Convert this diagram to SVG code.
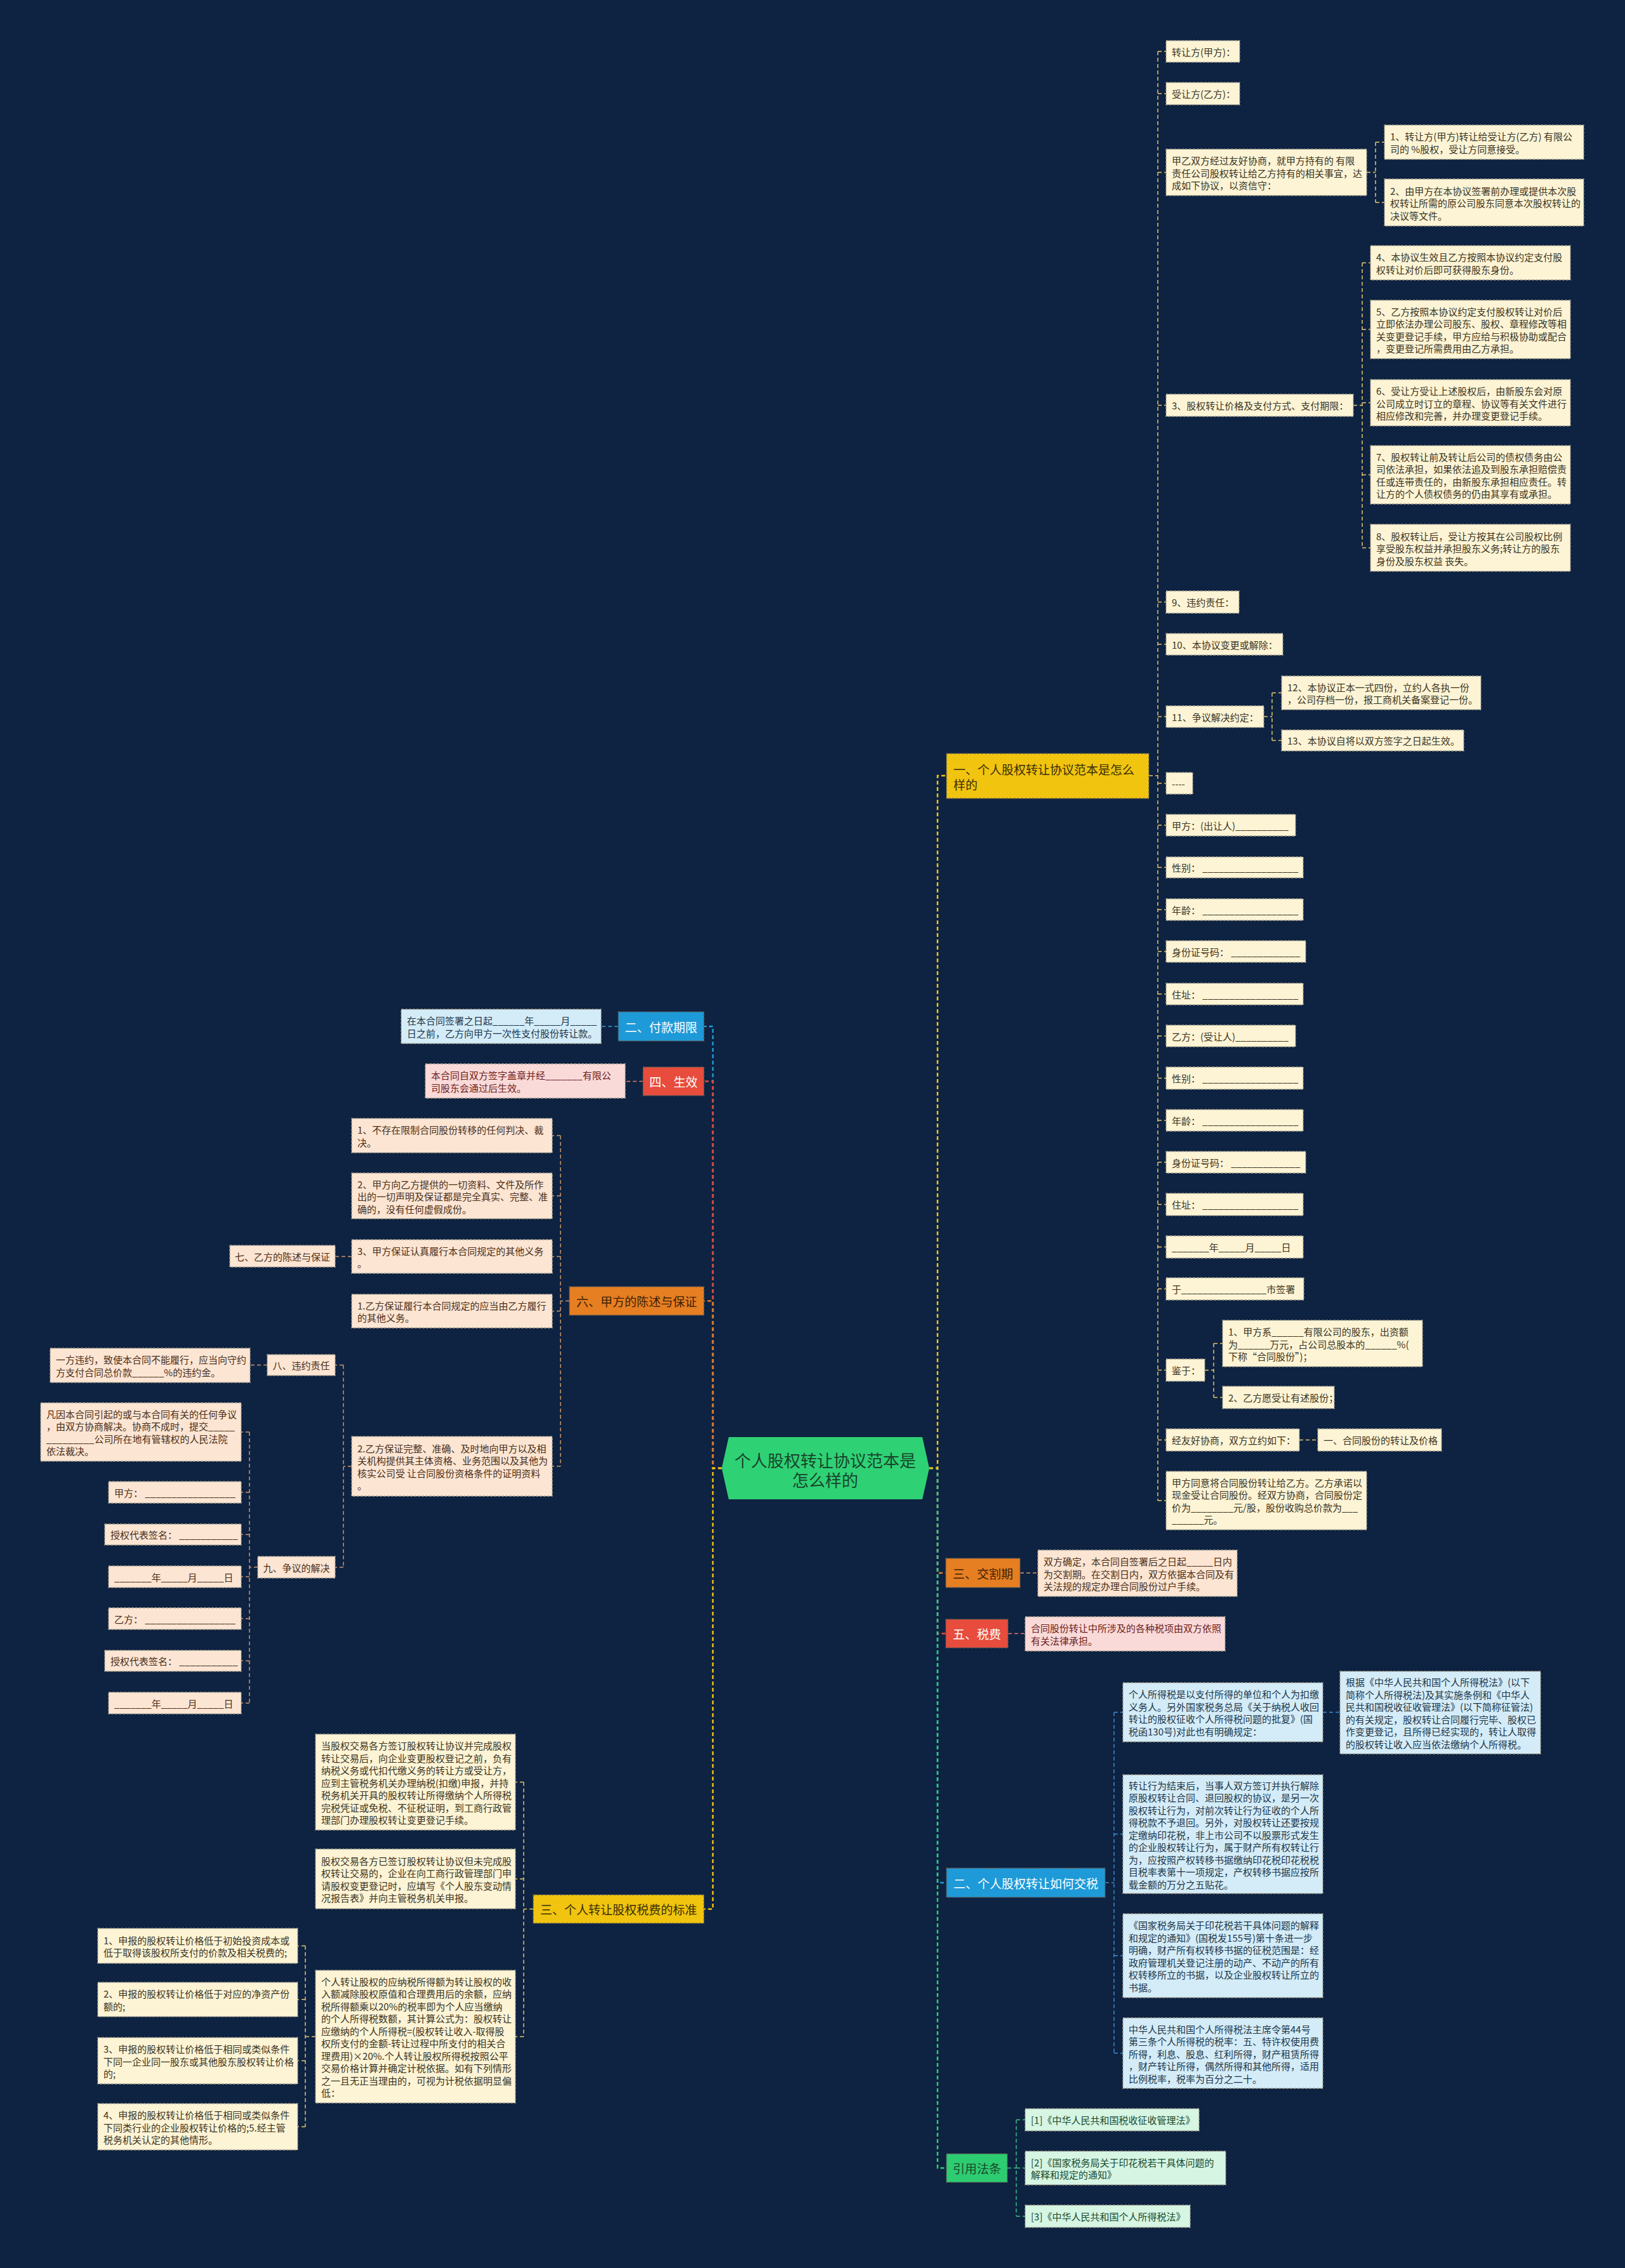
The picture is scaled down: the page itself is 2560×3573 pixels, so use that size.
<svg xmlns="http://www.w3.org/2000/svg" width="2560" height="3573" viewBox="0 0 2560 3573">
<style>
text{font-family:"Noto Sans CJK SC","Microsoft YaHei",sans-serif;dominant-baseline:central}
.s{font-size:15px}
.m{font-size:19px}
.mid{text-anchor:middle}
.b{stroke:#a29e8e;stroke-width:1.3;stroke-dasharray:4 2}
.bm{stroke:#5a5a55;stroke-width:1.3;stroke-dasharray:4 2}
.cr{fill:#fdf4d5}.pe{fill:#fce5d3}.pk{fill:#fadad8}.lb{fill:#d4ecf8}.lg{fill:#d6f5e3}
.Y{fill:#f1c40f}.O{fill:#e67e22}.R{fill:#e74c3c}.B{fill:#1f9ad8}.G{fill:#2ecc71}
.tc{fill:#3a3322}.tp{fill:#4a2e18}.tk{fill:#6b2020}.tb{fill:#1b3548}.tg{fill:#184a2c}.tw{fill:#ffffff}.ty{fill:#3a2e05}.to{fill:#3d2205}
.cn path{fill:none;stroke-dasharray:6 4}
.w2{stroke-width:2.5}
.w1{stroke-width:1.5}
</style>
<rect width="2560" height="3573" fill="#0e2241"/>

<g id="connectors" class="cn">
  <path class="w2" stroke="#e67e22" d="M1464 2313H1477V2478H1490"/>
  <path class="w2" stroke="#e74c3c" d="M1464 2313H1477V2573.5H1490"/>
  <path class="w2" stroke="#1f9ad8" d="M1464 2313H1477V2966H1491"/>
  <path class="w2" stroke="#2ecc71" d="M1464 2313H1477V3415.5H1491"/>
  <path class="w2" stroke="#f1c40f" d="M1464 2313H1477V1222H1491"/>
  <path class="w2" stroke="#1f9ad8" d="M1137 2313H1123V1617H1109"/>
  <path class="w2" stroke="#e74c3c" d="M1137 2313H1123V1703.5H1109"/>
  <path class="w2" stroke="#e67e22" d="M1137 2313H1123V2049.5H1109"/>
  <path class="w2" stroke="#f1c40f" d="M1137 2313H1123V3007.5H1109"/>
  <g stroke="#e3c76a">
    <path class="w1" d="M1810 1222H1824M1824 81V2364"/>
    <path class="w1" d="M1824 81H1837M1824 147.5H1837M1824 271.5H1837M1824 638.5H1837M1824 948.5H1837M1824 1015H1837M1824 1129H1837M1824 1234H1837M1824 1300H1837M1824 1366.5H1837M1824 1433H1837M1824 1499H1837M1824 1566H1837M1824 1632H1837M1824 1698.5H1837M1824 1765H1837M1824 1831H1837M1824 1897.5H1837M1824 1964.5H1837M1824 2030.5H1837M1824 2158.5H1837M1824 2268.5H1837M1824 2364H1837"/>
    <path class="w1" d="M2153 271.5H2167M2167 224V319M2167 224H2181M2167 319H2181"/>
    <path class="w1" d="M2132 638.5H2146M2146 414V863M2146 414H2159M2146 519H2159M2146 634.5H2159M2146 748H2159M2146 863H2159"/>
    <path class="w1" d="M1991 1129H2004M2004 1091.5V1166.5M2004 1091.5H2019M2004 1166.5H2019"/>
    <path class="w1" d="M1898 2158.5H1912M1912 2116.5V2201.5M1912 2116.5H1926M1912 2201.5H1926"/>
    <path class="w1" d="M2047 2268.5H2076"/>
  </g>
  <path class="w1" stroke="#e3925a" d="M1607 2478H1635"/>
  <path class="w1" stroke="#e47a6c" d="M1588 2573.5H1615"/>
  <g stroke="#3c8fd0">
    <path class="w1" d="M1741 2966H1755M1755 2697.5V3234.5M1755 2697.5H1769M1755 2889.5H1769M1755 3081H1769M1755 3234.5H1769"/>
    <path class="w1" d="M2084 2697.5H2111"/>
  </g>
  <path class="w1" stroke="#3ec080" d="M1587 3415.5H1601M1601 3339.5V3491.5M1601 3339.5H1615M1601 3415.5H1615M1601 3491.5H1615"/>
  <path class="w1" stroke="#3c9ad6" d="M974 1617H947"/>
  <path class="w1" stroke="#e47a6c" d="M1013 1703.5H985"/>
  <g stroke="#c9966e">
    <path class="w1" d="M897 2049.5H883M883 1789V2310M883 1789H870M883 1884H870M883 1979.5H870M883 2065.5H870M883 2310H870"/>
    <path class="w1" d="M554 1979.5H528"/>
    <path class="w1" d="M554 2310H541M541 2150.5V2469M541 2150.5H528M541 2469H528"/>
    <path class="w1" d="M421 2150.5H394"/>
    <path class="w1" d="M406 2469H393M393 2256V2683M393 2256H380M393 2351H380M393 2417.5H380M393 2484H380M393 2550H380M393 2616.5H380M393 2683H380"/>
  </g>
  <g stroke="#e3c76a">
    <path class="w1" d="M840 3007.5H825M825 2807.5V3208.5M825 2807.5H812M825 2960H812M825 3208.5H812"/>
    <path class="w1" d="M497 3208.5H481M481 3065.5V3350.5M481 3065.5H469M481 3150H469M481 3246.5H469M481 3350.5H469"/>
  </g>
</g>

<g id="center">
  <polygon points="1137,2313 1148,2264 1453,2264 1464,2313 1453,2362 1148,2362" fill="#2fd175"/>
  <text x="1300" y="2299" class="mid" font-size="26" fill="#17452a">个人股权转让协议范本是</text>
  <text x="1300" y="2330" class="mid" font-size="26" fill="#17452a">怎么样的</text>
</g>

<g id="b1"><rect x="1491" y="1187" width="319" height="71" class="Y bm"/>
  <text class="m ty"><tspan x="1502" y="1210.5">一、个人股权转让协议范本是怎么</tspan><tspan x="1502" y="1234.5">样的</tspan></text></g>
<g id="b-jiaoge"><rect x="1490" y="2455" width="117" height="46" class="O bm"/><text x="1548.5" y="2478" class="m mid to">三、交割期</text></g>
<g id="b-shuifei"><rect x="1490" y="2551" width="98" height="45" class="R bm"/><text x="1539" y="2573.5" class="m mid tw">五、税费</text></g>
<g id="b-jiaoshui"><rect x="1491" y="2943" width="250" height="46" class="B bm"/><text x="1616" y="2966" class="m mid tw">二、个人股权转让如何交税</text></g>
<g id="b-yinyong"><rect x="1491" y="3393" width="96" height="45" class="G bm"/><text x="1539" y="3415.5" class="m mid tg">引用法条</text></g>

<g id="b-fukuan"><rect x="974" y="1594" width="135" height="46" class="B bm"/><text x="1041.5" y="1617" class="m mid tw">二、付款期限</text></g>
<g id="b-shengxiao"><rect x="1013" y="1681" width="96" height="45" class="R bm"/><text x="1061" y="1703.5" class="m mid tw">四、生效</text></g>
<g id="b-liu"><rect x="897" y="2027" width="212" height="45" class="O bm"/><text x="1003" y="2049.5" class="m mid to">六、甲方的陈述与保证</text></g>
<g id="b-biaozhun"><rect x="840" y="2985" width="269" height="45" class="Y bm"/><text x="974.5" y="3007.5" class="m mid ty">三、个人转让股权税费的标准</text></g>

<g id="n1"><rect x="1837" y="64" width="116" height="34" class="cr b"/><text x="1846" y="81" class="s tc">转让方(甲方)：</text></g>
<g id="n2"><rect x="1837" y="130" width="116" height="35" class="cr b"/><text x="1846" y="147.5" class="s tc">受让方(乙方)：</text></g>
<g id="n3"><rect x="1837" y="235" width="316" height="73" class="cr b"/><text class="s tc"><tspan x="1846" y="252">甲乙双方经过友好协商，就甲方持有的 有限</tspan><tspan x="1846" y="271.5">责任公司股权转让给乙方持有的相关事宜，达</tspan><tspan x="1846" y="291">成如下协议，以资信守：</tspan></text></g>
<g id="n3a"><rect x="2181" y="197" width="314" height="54" class="cr b"/><text class="s tc"><tspan x="2190" y="214.25">1、转让方(甲方)转让给受让方(乙方) 有限公</tspan><tspan x="2190" y="233.75">司的 %股权，受让方同意接受。</tspan></text></g>
<g id="n3b"><rect x="2181" y="282" width="314" height="74" class="cr b"/><text class="s tc"><tspan x="2190" y="299.5">2、由甲方在本协议签署前办理或提供本次股</tspan><tspan x="2190" y="319">权转让所需的原公司股东同意本次股权转让的</tspan><tspan x="2190" y="338.5">决议等文件。</tspan></text></g>
<g id="n4"><rect x="1837" y="621" width="295" height="35" class="cr b"/><text x="1846" y="638.5" class="s tc">3、股权转让价格及支付方式、支付期限：</text></g>
<g id="n4a"><rect x="2159" y="387" width="315" height="54" class="cr b"/><text class="s tc"><tspan x="2168" y="404.25">4、本协议生效且乙方按照本协议约定支付股</tspan><tspan x="2168" y="423.75">权转让对价后即可获得股东身份。</tspan></text></g>
<g id="n4b"><rect x="2159" y="473" width="315" height="92" class="cr b"/><text class="s tc"><tspan x="2168" y="489.75">5、乙方按照本协议约定支付股权转让对价后</tspan><tspan x="2168" y="509.25">立即依法办理公司股东、股权、章程修改等相</tspan><tspan x="2168" y="528.75">关变更登记手续，甲方应给与积极协助或配合</tspan><tspan x="2168" y="548.25">，变更登记所需费用由乙方承担。</tspan></text></g>
<g id="n4c"><rect x="2159" y="598" width="315" height="73" class="cr b"/><text class="s tc"><tspan x="2168" y="615">6、受让方受让上述股权后，由新股东会对原</tspan><tspan x="2168" y="634.5">公司成立时订立的章程、协议等有关文件进行</tspan><tspan x="2168" y="654">相应修改和完善，并办理变更登记手续。</tspan></text></g>
<g id="n4d"><rect x="2159" y="702" width="315" height="92" class="cr b"/><text class="s tc"><tspan x="2168" y="718.75">7、股权转让前及转让后公司的债权债务由公</tspan><tspan x="2168" y="738.25">司依法承担，如果依法追及到股东承担赔偿责</tspan><tspan x="2168" y="757.75">任或连带责任的，由新股东承担相应责任。转</tspan><tspan x="2168" y="777.25">让方的个人债权债务的仍由其享有或承担。</tspan></text></g>
<g id="n4e"><rect x="2159" y="826" width="315" height="74" class="cr b"/><text class="s tc"><tspan x="2168" y="843.5">8、股权转让后，受让方按其在公司股权比例</tspan><tspan x="2168" y="863">享受股东权益并承担股东义务;转让方的股东</tspan><tspan x="2168" y="882.5">身份及股东权益 丧失。</tspan></text></g>
<g id="n5"><rect x="1837" y="931" width="115" height="35" class="cr b"/><text x="1846" y="948.5" class="s tc">9、违约责任：</text></g>
<g id="n6"><rect x="1837" y="998" width="184" height="34" class="cr b"/><text x="1846" y="1015" class="s tc">10、本协议变更或解除：</text></g>
<g id="n7"><rect x="1837" y="1112" width="154" height="34" class="cr b"/><text x="1846" y="1129" class="s tc">11、争议解决约定：</text></g>
<g id="n7a"><rect x="2019" y="1065" width="314" height="53" class="cr b"/><text class="s tc"><tspan x="2028" y="1081.75">12、本协议正本一式四份，立约人各执一份</tspan><tspan x="2028" y="1101.25">，公司存档一份，报工商机关备案登记一份。</tspan></text></g>
<g id="n7b"><rect x="2019" y="1150" width="287" height="33" class="cr b"/><text x="2028" y="1166.5" class="s tc">13、本协议自将以双方签字之日起生效。</text></g>
<g id="n8"><rect x="1837" y="1217" width="42" height="34" class="cr b"/><text x="1846" y="1234" class="s tc">----</text></g>
<g id="n9"><rect x="1837" y="1283" width="204" height="34" class="cr b"/><text x="1846" y="1300" class="s tc">甲方：(出让人)__________</text></g>
<g id="n10"><rect x="1837" y="1350" width="216" height="33" class="cr b"/><text x="1846" y="1366.5" class="s tc">性别： __________________</text></g>
<g id="n11"><rect x="1837" y="1416" width="216" height="34" class="cr b"/><text x="1846" y="1433" class="s tc">年龄： __________________</text></g>
<g id="n12"><rect x="1837" y="1482" width="220" height="34" class="cr b"/><text x="1846" y="1499" class="s tc">身份证号码： _____________</text></g>
<g id="n13"><rect x="1837" y="1549" width="216" height="34" class="cr b"/><text x="1846" y="1566" class="s tc">住址： __________________</text></g>
<g id="n14"><rect x="1837" y="1615" width="204" height="34" class="cr b"/><text x="1846" y="1632" class="s tc">乙方：(受让人)__________</text></g>
<g id="n15"><rect x="1837" y="1681" width="216" height="35" class="cr b"/><text x="1846" y="1698.5" class="s tc">性别： __________________</text></g>
<g id="n16"><rect x="1837" y="1748" width="216" height="34" class="cr b"/><text x="1846" y="1765" class="s tc">年龄： __________________</text></g>
<g id="n17"><rect x="1837" y="1814" width="220" height="34" class="cr b"/><text x="1846" y="1831" class="s tc">身份证号码： _____________</text></g>
<g id="n18"><rect x="1837" y="1880" width="216" height="35" class="cr b"/><text x="1846" y="1897.5" class="s tc">住址： __________________</text></g>
<g id="n19"><rect x="1837" y="1947" width="216" height="35" class="cr b"/><text x="1846" y="1964.5" class="s tc">_______年_____月_____日</text></g>
<g id="n20"><rect x="1837" y="2013" width="217" height="35" class="cr b"/><text x="1846" y="2030.5" class="s tc">于________________市签署</text></g>
<g id="n21"><rect x="1837" y="2141" width="61" height="35" class="cr b"/><text x="1846" y="2158.5" class="s tc">鉴于：</text></g>
<g id="n21a"><rect x="1926" y="2080" width="315" height="73" class="cr b"/><text class="s tc"><tspan x="1935" y="2097">1、甲方系______有限公司的股东，出资额</tspan><tspan x="1935" y="2116.5">为______万元，占公司总股本的______%(</tspan><tspan x="1935" y="2136">下称“合同股份”)；</tspan></text></g>
<g id="n21b"><rect x="1926" y="2184" width="176" height="35" class="cr b"/><text x="1935" y="2201.5" class="s tc">2、乙方愿受让有述股份；</text></g>
<g id="n22"><rect x="1837" y="2251" width="210" height="35" class="cr b"/><text x="1846" y="2268.5" class="s tc">经友好协商，双方立约如下：</text></g>
<g id="n22a"><rect x="2076" y="2251" width="195" height="35" class="cr b"/><text x="2085" y="2268.5" class="s tc">一、合同股份的转让及价格</text></g>
<g id="n23"><rect x="1837" y="2318" width="316" height="92" class="cr b"/><text class="s tc"><tspan x="1846" y="2334.75">甲方同意将合同股份转让给乙方。乙方承诺以</tspan><tspan x="1846" y="2354.25">现金受让合同股份。经双方协商，合同股份定</tspan><tspan x="1846" y="2373.75">价为________元/股，股份收购总价款为___</tspan><tspan x="1846" y="2393.25">______元。</tspan></text></g>

<g id="jg1"><rect x="1635" y="2442" width="314" height="73" class="pe b"/><text class="s tp"><tspan x="1644" y="2459">双方确定，本合同自签署后之日起_____日内</tspan><tspan x="1644" y="2478.5">为交割期。在交割日内，双方依据本合同及有</tspan><tspan x="1644" y="2498">关法规的规定办理合同股份过户手续。</tspan></text></g>
<g id="sf1"><rect x="1615" y="2547" width="315" height="54" class="pk b"/><text class="s tk"><tspan x="1624" y="2564.25">合同股份转让中所涉及的各种税项由双方依照</tspan><tspan x="1624" y="2583.75">有关法律承担。</tspan></text></g>
<g id="js1"><rect x="1769" y="2651" width="315" height="93" class="lb b"/><text class="s tb"><tspan x="1778" y="2668.25">个人所得税是以支付所得的单位和个人为扣缴</tspan><tspan x="1778" y="2687.75">义务人。另外国家税务总局《关于纳税人收回</tspan><tspan x="1778" y="2707.25">转让的股权征收个人所得税问题的批复》(国</tspan><tspan x="1778" y="2726.75">税函130号)对此也有明确规定：</tspan></text></g>
<g id="js1a"><rect x="2111" y="2633" width="316" height="130" class="lb b"/><text class="s tb"><tspan x="2120" y="2649.25">根据《中华人民共和国个人所得税法》(以下</tspan><tspan x="2120" y="2668.75">简称个人所得税法)及其实施条例和《中华人</tspan><tspan x="2120" y="2688.25">民共和国税收征收管理法》(以下简称征管法)</tspan><tspan x="2120" y="2707.75">的有关规定，股权转让合同履行完毕、股权已</tspan><tspan x="2120" y="2727.25">作变更登记，且所得已经实现的，转让人取得</tspan><tspan x="2120" y="2746.75">的股权转让收入应当依法缴纳个人所得税。</tspan></text></g>
<g id="js2"><rect x="1769" y="2796" width="315" height="187" class="lb b"/><text class="s tb"><tspan x="1778" y="2811.5">转让行为结束后，当事人双方签订并执行解除</tspan><tspan x="1778" y="2831">原股权转让合同、退回股权的协议，是另一次</tspan><tspan x="1778" y="2850.5">股权转让行为，对前次转让行为征收的个人所</tspan><tspan x="1778" y="2870">得税款不予退回。另外，对股权转让还要按规</tspan><tspan x="1778" y="2889.5">定缴纳印花税，非上市公司不以股票形式发生</tspan><tspan x="1778" y="2909">的企业股权转让行为，属于财产所有权转让行</tspan><tspan x="1778" y="2928.5">为，应按照产权转移书据缴纳印花税印花税税</tspan><tspan x="1778" y="2948">目税率表第十一项规定，产权转移书据应按所</tspan><tspan x="1778" y="2967.5">载金额的万分之五贴花。</tspan></text></g>
<g id="js3"><rect x="1769" y="3015" width="315" height="132" class="lb b"/><text class="s tb"><tspan x="1778" y="3032.25">《国家税务局关于印花税若干具体问题的解释</tspan><tspan x="1778" y="3051.75">和规定的通知》(国税发155号)第十条进一步</tspan><tspan x="1778" y="3071.25">明确，财产所有权转移书据的征税范围是：经</tspan><tspan x="1778" y="3090.75">政府管理机关登记注册的动产、不动产的所有</tspan><tspan x="1778" y="3110.25">权转移所立的书据，以及企业股权转让所立的</tspan><tspan x="1778" y="3129.75">书据。</tspan></text></g>
<g id="js4"><rect x="1769" y="3179" width="315" height="111" class="lb b"/><text class="s tb"><tspan x="1778" y="3195.5">中华人民共和国个人所得税法主席令第44号</tspan><tspan x="1778" y="3215">第三条个人所得税的税率：五、特许权使用费</tspan><tspan x="1778" y="3234.5">所得，利息、股息、红利所得，财产租赁所得</tspan><tspan x="1778" y="3254">，财产转让所得，偶然所得和其他所得，适用</tspan><tspan x="1778" y="3273.5">比例税率，税率为百分之二十。</tspan></text></g>
<g id="yy1"><rect x="1615" y="3322" width="274" height="35" class="lg b"/><text x="1624" y="3339.5" class="s tg">[1]《中华人民共和国税收征收管理法》</text></g>
<g id="yy2"><rect x="1615" y="3389" width="316" height="53" class="lg b"/><text class="s tg"><tspan x="1624" y="3405.75">[2]《国家税务局关于印花税若干具体问题的</tspan><tspan x="1624" y="3425.25">解释和规定的通知》</tspan></text></g>
<g id="yy3"><rect x="1615" y="3474" width="260" height="35" class="lg b"/><text x="1624" y="3491.5" class="s tg">[3]《中华人民共和国个人所得税法》</text></g>

<g id="fk1"><rect x="632" y="1590" width="315" height="54" class="lb b"/><text class="s tb"><tspan x="641" y="1607.25">在本合同签署之日起______年_____月_____</tspan><tspan x="641" y="1626.75">日之前，乙方向甲方一次性支付股份转让款。</tspan></text></g>
<g id="sx1"><rect x="670" y="1676" width="315" height="54" class="pk b"/><text class="s tk"><tspan x="679" y="1693.25">本合同自双方签字盖章并经_______有限公</tspan><tspan x="679" y="1712.75">司股东会通过后生效。</tspan></text></g>
<g id="l6a"><rect x="554" y="1762" width="316" height="54" class="pe b"/><text class="s tp"><tspan x="563" y="1779.25">1、不存在限制合同股份转移的任何判决、裁</tspan><tspan x="563" y="1798.75">决。</tspan></text></g>
<g id="l6b"><rect x="554" y="1848" width="316" height="72" class="pe b"/><text class="s tp"><tspan x="563" y="1864.5">2、甲方向乙方提供的一切资料、文件及所作</tspan><tspan x="563" y="1884">出的一切声明及保证都是完全真实、完整、准</tspan><tspan x="563" y="1903.5">确的，没有任何虚假成份。</tspan></text></g>
<g id="l6c"><rect x="554" y="1953" width="316" height="53" class="pe b"/><text class="s tp"><tspan x="563" y="1969.75">3、甲方保证认真履行本合同规定的其他义务</tspan><tspan x="563" y="1989.25">。</tspan></text></g>
<g id="l6d"><rect x="554" y="2039" width="316" height="53" class="pe b"/><text class="s tp"><tspan x="563" y="2055.75">1.乙方保证履行本合同规定的应当由乙方履行</tspan><tspan x="563" y="2075.25">的其他义务。</tspan></text></g>
<g id="l6e"><rect x="554" y="2263" width="316" height="94" class="pe b"/><text class="s tp"><tspan x="563" y="2280.75">2.乙方保证完整、准确、及时地向甲方以及相</tspan><tspan x="563" y="2300.25">关机构提供其主体资格、业务范围以及其他为</tspan><tspan x="563" y="2319.75">核实公司受 让合同股份资格条件的证明资料</tspan><tspan x="563" y="2339.25">。</tspan></text></g>
<g id="l7"><rect x="362" y="1962" width="166" height="34" class="pe b"/><text x="445" y="1979" class="s mid tp">七、乙方的陈述与保证</text></g>
<g id="l8"><rect x="421" y="2134" width="107" height="33" class="pe b"/><text x="474.5" y="2150.5" class="s mid tp">八、违约责任</text></g>
<g id="l8a"><rect x="79" y="2124" width="315" height="54" class="pe b"/><text class="s tp"><tspan x="88" y="2141.25">一方违约，致使本合同不能履行，应当向守约</tspan><tspan x="88" y="2160.75">方支付合同总价款______%的违约金。</tspan></text></g>
<g id="l9"><rect x="406" y="2452" width="122" height="34" class="pe b"/><text x="467" y="2469" class="s mid tp">九、争议的解决</text></g>
<g id="l9a"><rect x="64" y="2210" width="316" height="92" class="pe b"/><text class="s tp"><tspan x="73" y="2226.75">凡因本合同引起的或与本合同有关的任何争议</tspan><tspan x="73" y="2246.25">，由双方协商解决。协商不成时，提交_____</tspan><tspan x="73" y="2265.75">_________公司所在地有管辖权的人民法院</tspan><tspan x="73" y="2285.25">依法裁决。</tspan></text></g>
<g id="l9b"><rect x="171" y="2334" width="209" height="34" class="pe b"/><text x="180" y="2351" class="s tp">甲方： _________________</text></g>
<g id="l9c"><rect x="165" y="2401" width="215" height="33" class="pe b"/><text x="174" y="2417.5" class="s tp">授权代表签名： ___________</text></g>
<g id="l9d"><rect x="171" y="2467" width="209" height="34" class="pe b"/><text x="180" y="2484" class="s tp">_______年_____月_____日</text></g>
<g id="l9e"><rect x="171" y="2533" width="209" height="34" class="pe b"/><text x="180" y="2550" class="s tp">乙方： _________________</text></g>
<g id="l9f"><rect x="165" y="2600" width="215" height="33" class="pe b"/><text x="174" y="2616.5" class="s tp">授权代表签名： ___________</text></g>
<g id="l9g"><rect x="171" y="2666" width="209" height="34" class="pe b"/><text x="180" y="2683" class="s tp">_______年_____月_____日</text></g>

<g id="l3a"><rect x="497" y="2732" width="315" height="151" class="cr b"/><text class="s tc"><tspan x="506" y="2749">当股权交易各方签订股权转让协议并完成股权</tspan><tspan x="506" y="2768.5">转让交易后，向企业变更股权登记之前，负有</tspan><tspan x="506" y="2788">纳税义务或代扣代缴义务的转让方或受让方，</tspan><tspan x="506" y="2807.5">应到主管税务机关办理纳税(扣缴)申报，并持</tspan><tspan x="506" y="2827">税务机关开具的股权转让所得缴纳个人所得税</tspan><tspan x="506" y="2846.5">完税凭证或免税、不征税证明，到工商行政管</tspan><tspan x="506" y="2866">理部门办理股权转让变更登记手续。</tspan></text></g>
<g id="l3b"><rect x="497" y="2913" width="315" height="94" class="cr b"/><text class="s tc"><tspan x="506" y="2930.75">股权交易各方已签订股权转让协议但未完成股</tspan><tspan x="506" y="2950.25">权转让交易的，企业在向工商行政管理部门申</tspan><tspan x="506" y="2969.75">请股权变更登记时，应填写《个人股东变动情</tspan><tspan x="506" y="2989.25">况报告表》并向主管税务机关申报。</tspan></text></g>
<g id="l3c"><rect x="497" y="3104" width="315" height="209" class="cr b"/><text class="s tc"><tspan x="506" y="3120.75">个人转让股权的应纳税所得额为转让股权的收</tspan><tspan x="506" y="3140.25">入额减除股权原值和合理费用后的余额，应纳</tspan><tspan x="506" y="3159.75">税所得额乘以20%的税率即为个人应当缴纳</tspan><tspan x="506" y="3179.25">的个人所得税数额，其计算公式为：股权转让</tspan><tspan x="506" y="3198.75">应缴纳的个人所得税=(股权转让收入-取得股</tspan><tspan x="506" y="3218.25">权所支付的金额-转让过程中所支付的相关合</tspan><tspan x="506" y="3237.75">理费用)×20%.个人转让股权所得税按照公平</tspan><tspan x="506" y="3257.25">交易价格计算并确定计税依据。如有下列情形</tspan><tspan x="506" y="3276.75">之一且无正当理由的，可视为计税依据明显偏</tspan><tspan x="506" y="3296.25">低：</tspan></text></g>
<g id="l3c1"><rect x="154" y="3038" width="315" height="55" class="cr b"/><text class="s tc"><tspan x="163" y="3055.75">1、申报的股权转让价格低于初始投资成本或</tspan><tspan x="163" y="3075.25">低于取得该股权所支付的价款及相关税费的;</tspan></text></g>
<g id="l3c2"><rect x="154" y="3123" width="315" height="54" class="cr b"/><text class="s tc"><tspan x="163" y="3140.25">2、申报的股权转让价格低于对应的净资产份</tspan><tspan x="163" y="3159.75">额的;</tspan></text></g>
<g id="l3c3"><rect x="154" y="3210" width="315" height="73" class="cr b"/><text class="s tc"><tspan x="163" y="3227">3、申报的股权转让价格低于相同或类似条件</tspan><tspan x="163" y="3246.5">下同一企业同一股东或其他股东股权转让价格</tspan><tspan x="163" y="3266">的;</tspan></text></g>
<g id="l3c4"><rect x="154" y="3314" width="315" height="73" class="cr b"/><text class="s tc"><tspan x="163" y="3331">4、申报的股权转让价格低于相同或类似条件</tspan><tspan x="163" y="3350.5">下同类行业的企业股权转让价格的;5.经主管</tspan><tspan x="163" y="3370">税务机关认定的其他情形。</tspan></text></g>
</svg>
